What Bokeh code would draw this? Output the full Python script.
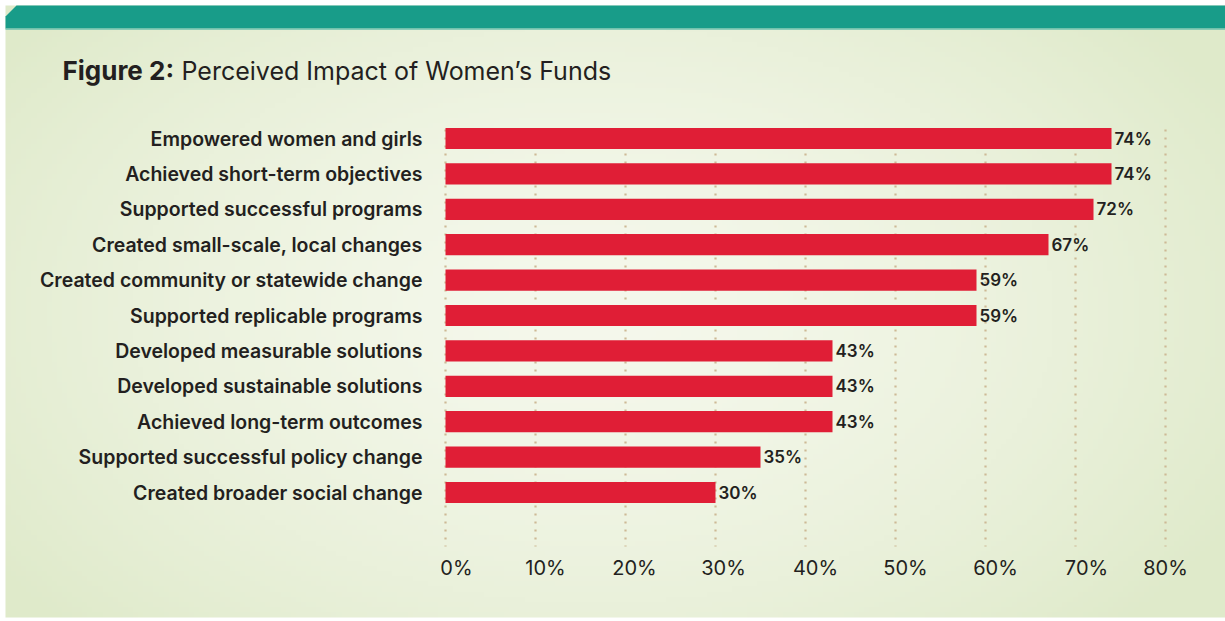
import numpy as np
from bokeh.plotting import figure
from bokeh.models import Range1d, ColumnDataSource
from bokeh.core.properties import value
from bokeh.embed import file_html
from bokeh.resources import INLINE

# ---- data ----
categories = [
    "Empowered women and girls",
    "Achieved short-term objectives",
    "Supported successful programs",
    "Created small-scale, local changes",
    "Created community or statewide change",
    "Supported replicable programs",
    "Developed measurable solutions",
    "Developed sustainable solutions",
    "Achieved long-term outcomes",
    "Supported successful policy change",
    "Created broader social change",
]
values = [74, 74, 72, 67, 59, 59, 43, 43, 43, 35, 30]
value_labels = ["74%", "74%", "72%", "67%", "59%", "59%", "43%", "43%", "43%", "35%", "30%"]
ticks = [0, 10, 20, 30, 40, 50, 60, 70, 80]
tick_labels = ["0%", "10%", "20%", "30%", "40%", "50%", "60%", "70%", "80%"]
title_bold = "Figure 2:"
title_rest = "Perceived Impact of Women\u2019s Funds"

# ---- layout (page pixel mapping) ----
W, H = 1225, 621
PX0, PY0 = 0, 0
X0_PAGE, PX_PER_UNIT = 445.0, 9.0
ROW0_PAGE, ROW_STEP = 138.0, 35.4

def dx(px):
    return (px - X0_PAGE) / PX_PER_UNIT

def dy(py):
    return (py - ROW0_PAGE) / ROW_STEP

FONT = "Inter"
FONT_MED = "Inter SemiBold"
TEXT = "#231f20"

p = figure(width=W, height=H, output_backend="svg", toolbar_location=None,
           x_range=Range1d(dx(PX0), dx(PX0 + W)),
           y_range=Range1d(dy(PY0 + H), dy(PY0)),
           min_border=0, x_axis_location=None, y_axis_location=None)
p.grid.visible = False
p.outline_line_color = None
p.background_fill_color = "#ffffff"
p.border_fill_color = "#ffffff"

# panel background radial gradient
gh, gw = 120, 240
yy, xx = np.mgrid[0:gh, 0:gw]
cx, cy = gw * 0.48, gh * 0.5
r = np.sqrt(((xx - cx) / (gw * 0.6)) ** 2 + ((yy - cy) / (gh * 0.75)) ** 2)
r = np.clip(r, 0, 1) ** 1.5
inner = np.array([245, 248, 236])
outer = np.array([223, 234, 202])
col = inner[None, None, :] * (1 - r[..., None]) + outer[None, None, :] * r[..., None]
img = np.zeros((gh, gw), dtype=np.uint32)
view = img.view(dtype=np.uint8).reshape((gh, gw, 4))
view[..., 0] = col[..., 0]
view[..., 1] = col[..., 1]
view[..., 2] = col[..., 2]
view[..., 3] = 255
p.image_rgba(image=[img], x=dx(5), y=dy(5), dw=dx(1225) - dx(5),
             dh=dy(617) - dy(5))

# teal header band with cut corner
band_top, band_bot = 5, 28
p.patch(x=[dx(5), dx(16), dx(1225), dx(1225), dx(5)],
        y=[dy(16), dy(band_top), dy(band_top), dy(band_bot), dy(band_bot)],
        fill_color="#189c89", line_color=None)
p.segment(x0=[dx(5)], y0=[dy(28.5)], x1=[dx(1225)], y1=[dy(28.5)],
          line_color="#6cc0ac", line_width=1.5)

# title
p.text(x=[dx(62)], y=[dy(70)], text=[title_bold], text_font=value(FONT),
       text_font_style="bold", text_font_size="26px", text_color=TEXT,
       text_baseline="middle", text_align="left")
p.text(x=[dx(181)], y=[dy(70)], text=[title_rest], text_font=value(FONT),
       text_font_style="normal", text_font_size="25px", text_color=TEXT,
       text_baseline="middle", text_align="left")

rows = list(range(len(categories)))

# dotted vertical gridlines
p.segment(x0=ticks, x1=ticks, y0=[dy(129)] * len(ticks), y1=[dy(546)] * len(ticks),
          line_color="#cdb995", line_width=2.2, line_dash="2 6")

# bars
src = ColumnDataSource(dict(y=rows, v=values, lab=value_labels, cat=categories))
p.hbar(y="y", left=0, right="v", height=0.6, source=src,
       fill_color="#e01e36", line_color=None)

# value labels
p.text(x="v", y="y", text="lab", source=src, x_offset=3,
       text_font=value(FONT_MED), text_font_size="17px", text_color=TEXT,
       text_align="left", text_baseline="middle")

# category labels
p.text(x=0, y="y", text="cat", source=src, x_offset=-23,
       text_font=value(FONT_MED), text_font_size="19.5px", text_color=TEXT,
       text_align="right", text_baseline="middle")

# x tick labels (slightly nudged right of the gridlines, as in the original)
tick_nudge = [11, 10, 9, 8, 10, 10, 10, 11, 0]
tsrc = ColumnDataSource(dict(x=ticks, t=tick_labels, xo=tick_nudge))
p.text(x="x", y=dy(567), text="t", source=tsrc, x_offset="xo",
       text_font=value(FONT), text_font_size="20px", text_color=TEXT,
       text_align="center", text_baseline="middle")

open("out.html", "w").write(file_html(p, INLINE))
